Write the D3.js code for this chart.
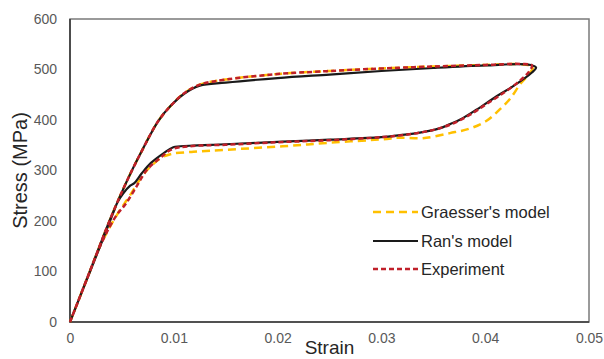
<!DOCTYPE html>
<html>
<head>
<meta charset="utf-8">
<script src="https://cdn.jsdelivr.net/npm/d3@7/dist/d3.min.js"></script>
<style>
  html, body { margin: 0; padding: 0; background: #fff; }
  svg { display: block; font-family: "Liberation Sans", Arial, sans-serif; }
</style>
</head>
<body>
<svg id="chart" width="604" height="359"></svg>
<script>
// Stress–strain loops: [strain, stress (MPa)], loading then unloading
const experiment = [
  [0, 0], [0.002, 105], [0.004, 210], [0.0055, 280], [0.0069, 338], [0.0085, 398],
  [0.0097, 428], [0.011, 453], [0.0125, 470], [0.015, 480], [0.02, 491], [0.025, 497],
  [0.03, 502], [0.035, 506], [0.04, 509], [0.0435, 511], [0.0445, 508],
  [0.0442, 495], [0.043, 472], [0.0415, 450], [0.04, 430], [0.0385, 410], [0.037, 394],
  [0.0355, 383], [0.034, 376], [0.032, 370], [0.03, 366], [0.025, 360], [0.02, 356],
  [0.015, 351], [0.0115, 348], [0.0098, 342], [0.0087, 325], [0.0074, 301], [0.0064, 268],
  [0.0053, 232], [0.0045, 212], [0.003, 155], [0.0015, 78], [0, 0]
];
const ransModel = [
  [0, 0], [0.002, 105], [0.004, 210], [0.0055, 280], [0.0069, 338], [0.0085, 398],
  [0.0097, 428], [0.011, 452], [0.0125, 468], [0.015, 474], [0.02, 483], [0.025, 490],
  [0.03, 497], [0.035, 503], [0.04, 508], [0.044, 510], [0.0449, 504],
  [0.0445, 494], [0.0427, 467], [0.0411, 447], [0.0392, 421], [0.0376, 401], [0.0365, 391],
  [0.0357, 384], [0.0337, 375], [0.0318, 370], [0.03, 366], [0.025, 361], [0.0205, 357],
  [0.015, 352], [0.0115, 349], [0.00995, 346], [0.009, 334], [0.0078, 315], [0.0069, 294],
  [0.0062, 275], [0.0058, 270], [0.0051, 254], [0.0046, 238], [0.0042, 218], [0.003, 155],
  [0.0015, 78], [0, 0]
];
const graessersModel = [
  [0, 0], [0.002, 105], [0.004, 210], [0.0055, 280], [0.0069, 338], [0.0085, 398],
  [0.0097, 428], [0.011, 453], [0.0125, 470], [0.015, 480], [0.02, 491], [0.025, 497],
  [0.03, 502], [0.035, 506], [0.04, 509], [0.0438, 510], [0.0446, 505], [0.0441, 488],
  [0.0434, 472], [0.0424, 442], [0.0414, 421], [0.0401, 398], [0.0385, 383], [0.0366, 374],
  [0.034, 364], [0.0318, 365], [0.0302, 362], [0.025, 355], [0.0205, 348], [0.015, 341],
  [0.0119, 337], [0.0098, 333], [0.0087, 324], [0.0074, 300], [0.0067, 281], [0.0056, 245],
  [0.0047, 218], [0.003, 155], [0.0015, 78], [0, 0]
];

const xTicks = [0, 0.01, 0.02, 0.03, 0.04, 0.05];
const yTicks = [0, 100, 200, 300, 400, 500, 600];
const seriesNames = ["Graesser's model", "Ran's model", "Experiment"];

const svg = d3.select("#chart");
const margin = { left: 70, right: 15, top: 19, bottom: 37 };
const W = 604, H = 359;

const x = d3.scaleLinear().domain([0, 0.05]).range([margin.left, W - margin.right]);
const y = d3.scaleLinear().domain([0, 600]).range([H - margin.bottom, margin.top]);

// plot frame: light top/right, darker left/bottom axes
svg.append("rect")
  .attr("x", x(0)).attr("y", y(600))
  .attr("width", x(0.05) - x(0)).attr("height", y(0) - y(600))
  .attr("fill", "none").attr("stroke", "#7a7a7a").attr("stroke-width", 1.5);
svg.append("path")
  .attr("d", `M${x(0)},${y(600)}V${y(0)}H${x(0.05)}`)
  .attr("fill", "none").attr("stroke", "#3a3a3a").attr("stroke-width", 1.6);

// axes (labels only, no tick marks)
const xAxis = svg.append("g").attr("transform", `translate(0,${y(0)})`)
  .call(d3.axisBottom(x).tickValues(xTicks).tickSize(0).tickPadding(11)
    .tickFormat(d => d === 0 ? "0" : d3.format(".2f")(d)));
const yAxis = svg.append("g").attr("transform", `translate(${x(0)},0)`)
  .call(d3.axisLeft(y).tickValues(yTicks).tickSize(0).tickPadding(13));
[xAxis, yAxis].forEach(g => {
  g.select(".domain").remove();
  g.selectAll("text").attr("fill", "#595959").style("font-size", "14px")
    .style("font-family", "'Liberation Sans', Arial, sans-serif");
});

svg.append("text").attr("x", (x(0) + x(0.05)) / 2).attr("y", 354)
  .attr("text-anchor", "middle").attr("fill", "#262626")
  .style("font-size", "19px").text("Strain");
svg.append("text")
  .attr("transform", `translate(27,${(y(0) + y(600)) / 2}) rotate(-90)`)
  .attr("text-anchor", "middle").attr("fill", "#262626")
  .style("font-size", "20px").text("Stress (MPa)");

const line = d3.line().x(d => x(d[0])).y(d => y(d[1])).curve(d3.curveCatmullRom.alpha(0.5));

const styles = [
  { data: graessersModel, color: "#FFC000", width: 2.5, dash: "8,5" },
  { data: ransModel, color: "#1a1a1a", width: 2.2, dash: null },
  { data: experiment, color: "#C0202A", width: 2.5, dash: "5,3" }
];

styles.forEach(s => {
  svg.append("path").datum(s.data)
    .attr("d", line)
    .attr("fill", "none")
    .attr("stroke", s.color)
    .attr("stroke-width", s.width)
    .attr("stroke-dasharray", s.dash);
});

// legend
const legend = svg.append("g");
const rows = [212, 241, 269];
seriesNames.forEach((name, i) => {
  const s = styles[i];
  legend.append("line")
    .attr("x1", 373).attr("x2", 418).attr("y1", rows[i]).attr("y2", rows[i])
    .attr("stroke", s.color).attr("stroke-width", s.width)
    .attr("stroke-dasharray", s.dash);
  legend.append("text").attr("x", 421).attr("y", rows[i]).attr("dy", "0.35em")
    .attr("fill", "#262626").style("font-size", "16.5px").text(name);
});
</script>
</body>
</html>
